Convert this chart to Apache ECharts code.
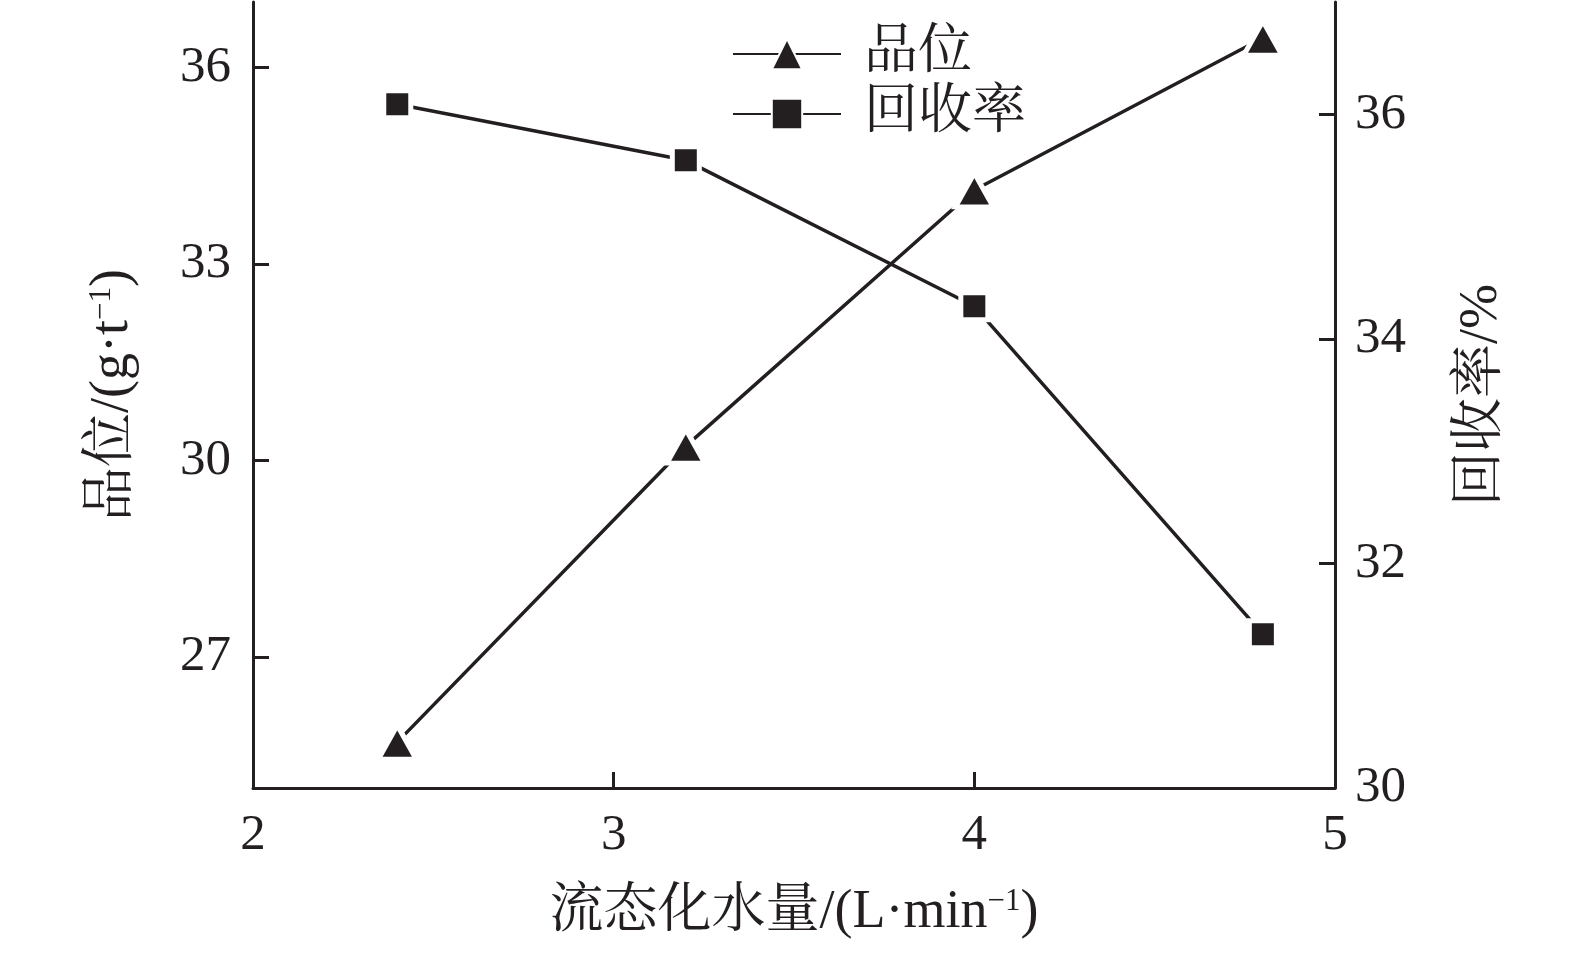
<!DOCTYPE html>
<html>
<head>
<meta charset="utf-8">
<script src="https://cdn.jsdelivr.net/npm/echarts@6/dist/echarts.min.js"></script>
<style>
html,body{margin:0;padding:0;background:#fff;}
#chart{width:1575px;height:954px;}
</style>
</head>
<body>
<div id="chart"></div>
<script>
const xValues = [2.4, 3.2, 4.0, 4.8];
const gradeValues = [25.7, 30.22, 34.13, 36.45];
const recoveryValues = [36.09, 35.59, 34.29, 31.37];
const xTicks = [2, 3, 4, 5];
const leftTicks = [27, 30, 33, 36];
const rightTicks = [30, 32, 34, 36];
const seriesNames = ['品位', '回收率'];

const INK = '#231f20';
const FONT = "'Liberation Serif','Noto Serif CJK SC','Noto Sans CJK SC',serif";

const chart = echarts.init(document.getElementById('chart'), null, {renderer: 'canvas'});

function axisCommon() {
  return {
    axisLine: {show: true, onZero: false, lineStyle: {color: INK, width: 3}},
    axisTick: {show: true, inside: true, length: 16, lineStyle: {color: INK, width: 3}},
    splitLine: {show: false},
    axisLabel: {color: INK, fontFamily: FONT, fontSize: 51}
  };
}
const supRich = {s: {fontFamily: FONT, fontSize: 31, color: INK, verticalAlign: 'top', padding: [0, 0, 22, 0]}};

const xAxis = axisCommon();
Object.assign(xAxis, {
  type: 'value', min: 2, max: 5,
  name: '流态化水量/(L·min{s|−1})',
  nameLocation: 'middle', nameGap: 98,
  nameTextStyle: {color: INK, fontFamily: FONT, fontSize: 54, rich: supRich}
});
xAxis.axisLabel.margin = 22;
xAxis.axisLabel.customValues = xTicks;
xAxis.axisTick.customValues = xTicks;

const yLeft = axisCommon();
Object.assign(yLeft, {
  type: 'value', min: 25, max: 37, position: 'left',
  name: '品位/(g·t{s|−1})',
  nameLocation: 'middle', nameGap: 113, nameRotate: 90,
  nameTextStyle: {color: INK, fontFamily: FONT, fontSize: 54, rich: supRich}
});
yLeft.axisLabel.margin = 22;
yLeft.axisLabel.customValues = leftTicks;
yLeft.axisTick.customValues = leftTicks;

const yRight = axisCommon();
Object.assign(yRight, {
  type: 'value', min: 30, max: 37, position: 'right',
  name: '回收率/%',
  nameLocation: 'middle', nameGap: 120, nameRotate: 90,
  nameTextStyle: {color: INK, fontFamily: FONT, fontSize: 54}
});
yRight.axisLabel.margin = 20;
yRight.axisLabel.customValues = rightTicks;
yRight.axisTick.customValues = rightTicks;

const option = {
  backgroundColor: '#fff',
  animation: false,
  grid: {left: 253, right: 240, top: 2, bottom: 166, containLabel: false},
  legend: {
    orient: 'vertical', left: 727, top: 22,
    itemWidth: 108, itemHeight: 38, itemGap: 6,
    data: seriesNames,
    textStyle: {color: INK, fontFamily: FONT, fontSize: 54, padding: [0, 0, 0, 18]}
  },
  xAxis: xAxis,
  yAxis: [yLeft, yRight],
  series: [
    {
      name: seriesNames[0], type: 'line', yAxisIndex: 0,
      data: xValues.map((x, i) => [x, gradeValues[i]]),
      symbol: 'triangle', symbolSize: [38, 34],
      lineStyle: {color: INK, width: 3.5},
      itemStyle: {color: INK, borderColor: '#fff', borderWidth: 5},
      z: 3
    },
    {
      name: seriesNames[1], type: 'line', yAxisIndex: 1,
      data: xValues.map((x, i) => [x, recoveryValues[i]]),
      symbol: 'rect', symbolSize: 27,
      lineStyle: {color: INK, width: 3.5},
      itemStyle: {color: INK, borderColor: '#fff', borderWidth: 5},
      z: 3
    }
  ]
};
chart.setOption(option);
</script>
</body>
</html>
